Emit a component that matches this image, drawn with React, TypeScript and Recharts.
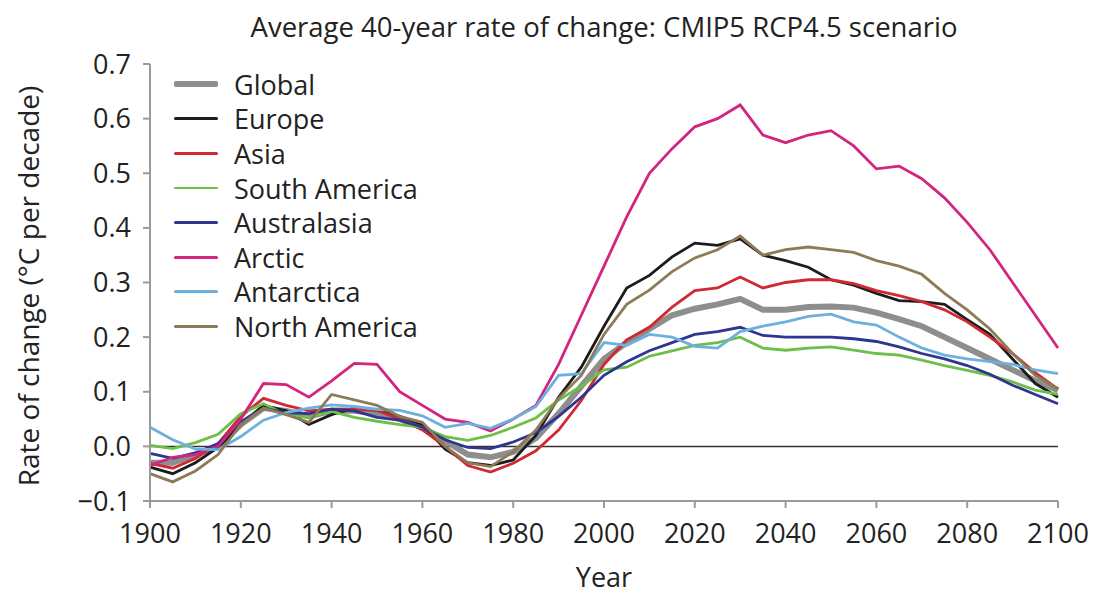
import React from 'react';
import {
  LineChart,
  Line,
  XAxis,
  YAxis,
  ReferenceLine,
} from 'recharts';

const years = [
  1900, 1905, 1910, 1915, 1920, 1925, 1930, 1935, 1940, 1945, 1950, 1955, 1960, 1965,
  1970, 1975, 1980, 1985, 1990, 1995, 2000, 2005, 2010, 2015, 2020, 2025, 2030, 2035,
  2040, 2045, 2050, 2055, 2060, 2065, 2070, 2075, 2080, 2085, 2090, 2095, 2100,
];

const globalRate = [
  -0.03, -0.03, -0.015, 0.0, 0.04, 0.07, 0.065, 0.055, 0.065, 0.065, 0.06, 0.05, 0.035, 0.01,
  -0.015, -0.02, -0.01, 0.015, 0.06, 0.11, 0.16, 0.19, 0.215, 0.24, 0.252, 0.26, 0.27, 0.25,
  0.25, 0.255, 0.256, 0.254, 0.245, 0.233, 0.22, 0.2, 0.18, 0.16, 0.14, 0.12, 0.103,
];
const europe = [
  -0.038, -0.05, -0.03, -0.002, 0.04, 0.075, 0.065, 0.04, 0.058, 0.07, 0.066, 0.055, 0.04, -0.005,
  -0.03, -0.035, -0.025, 0.02, 0.09, 0.145, 0.22, 0.29, 0.313, 0.347, 0.372, 0.368, 0.38, 0.35,
  0.34, 0.328, 0.305, 0.295, 0.28, 0.267, 0.265, 0.26, 0.232, 0.205, 0.16, 0.115, 0.09,
];
const asia = [
  -0.031, -0.04, -0.022, 0.005, 0.055, 0.088, 0.075, 0.065, 0.068, 0.068, 0.066, 0.05, 0.03, 0.0,
  -0.035, -0.047, -0.031, -0.008, 0.03, 0.084, 0.15, 0.195, 0.218, 0.255, 0.285, 0.29, 0.31, 0.29,
  0.3, 0.305, 0.305, 0.298, 0.285, 0.276, 0.265, 0.25, 0.228, 0.2, 0.17, 0.135, 0.105,
];
const southAmerica = [
  0.002, -0.004, 0.007, 0.022, 0.06, 0.078, 0.058, 0.053, 0.064, 0.053, 0.046, 0.04, 0.035, 0.018,
  0.011, 0.02, 0.035, 0.052, 0.085, 0.11, 0.14, 0.145, 0.165, 0.175, 0.185, 0.19, 0.2, 0.18,
  0.176, 0.18, 0.182, 0.176, 0.17, 0.167, 0.158, 0.148, 0.139, 0.13, 0.118, 0.103, 0.095,
];
const australasia = [
  -0.013, -0.022, -0.012, 0.005, 0.045, 0.07, 0.062, 0.06, 0.068, 0.065, 0.053, 0.048, 0.035, 0.012,
  -0.002, -0.004, 0.008, 0.025, 0.055, 0.09, 0.13, 0.155, 0.175, 0.19, 0.205, 0.21, 0.218, 0.203,
  0.2, 0.2, 0.2, 0.197, 0.192, 0.182, 0.17, 0.16, 0.148, 0.132, 0.112, 0.095, 0.078,
];
const arctic = [
  -0.035, -0.02, -0.015, 0.0, 0.05, 0.115, 0.113, 0.09, 0.12, 0.152, 0.15, 0.1, 0.075, 0.05,
  0.044, 0.028, 0.05, 0.075, 0.15, 0.24, 0.33, 0.42, 0.5, 0.545, 0.585, 0.6, 0.625, 0.57,
  0.556, 0.57, 0.578, 0.55, 0.508, 0.513, 0.49, 0.455, 0.41, 0.36, 0.3, 0.24, 0.18,
];
const antarctica = [
  0.035, 0.012, -0.005, -0.006, 0.018, 0.048, 0.062, 0.07, 0.076, 0.073, 0.068, 0.066, 0.056, 0.035,
  0.042, 0.033, 0.05, 0.073, 0.13, 0.133, 0.19, 0.185, 0.205, 0.2, 0.183, 0.18, 0.21, 0.22,
  0.228, 0.238, 0.242, 0.228, 0.222, 0.2, 0.18, 0.167, 0.16, 0.155, 0.15, 0.14, 0.133,
];
const northAmerica = [
  -0.05, -0.065, -0.045, -0.015, 0.04, 0.07, 0.058, 0.044, 0.095, 0.085, 0.075, 0.055, 0.044, 0.0,
  -0.03, -0.037, -0.01, 0.03, 0.088, 0.13, 0.205, 0.26, 0.286, 0.32, 0.345, 0.36, 0.385, 0.35,
  0.36, 0.365, 0.36, 0.355, 0.34, 0.33, 0.315, 0.28, 0.25, 0.215, 0.17, 0.13, 0.105,
];

const xTicks = [1900, 1920, 1940, 1960, 1980, 2000, 2020, 2040, 2060, 2080, 2100];
const yTicks = [-0.1, 0, 0.1, 0.2, 0.3, 0.4, 0.5, 0.6, 0.7];

const series = [
  { key: 'global', name: 'Global', values: globalRate, color: '#8e8e8e', width: 6 },
  { key: 'europe', name: 'Europe', values: europe, color: '#1c1c1c', width: 2.8 },
  { key: 'asia', name: 'Asia', values: asia, color: '#cf2a33', width: 2.8 },
  { key: 'southAmerica', name: 'South America', values: southAmerica, color: '#6cbf47', width: 2.8 },
  { key: 'australasia', name: 'Australasia', values: australasia, color: '#2f3590', width: 2.8 },
  { key: 'arctic', name: 'Arctic', values: arctic, color: '#d3247e', width: 2.8 },
  { key: 'antarctica', name: 'Antarctica', values: antarctica, color: '#6cb0e0', width: 2.8 },
  { key: 'northAmerica', name: 'North America', values: northAmerica, color: '#8d7b57', width: 2.8 },
];

const data = years.map((year, i) => {
  const row: Record<string, number> = { year };
  series.forEach((s) => {
    row[s.key] = s.values[i];
  });
  return row;
});

const FONT = '"Open Sans", "DejaVu Sans", sans-serif';
const TEXT = '#222';
const AXIS = '#9a9a9a';

const fmtY = (v: number) => (v < 0 ? '\u2212' + Math.abs(v).toFixed(1) : v.toFixed(1));

const LegendBox = () => (
  <div
    style={{
      position: 'absolute',
      left: 174,
      top: 67,
      fontFamily: FONT,
      fontSize: 27,
      color: TEXT,
    }}
  >
    {series.map((s) => (
      <div key={s.key} style={{ display: 'flex', alignItems: 'center', height: 34.6 }}>
        <span
          style={{
            display: 'inline-block',
            width: 44,
            height: s.width,
            background: s.color,
            borderRadius: 2,
            marginRight: 16,
          }}
        />
        <span>{s.name}</span>
      </div>
    ))}
  </div>
);

export default function App() {
  return (
    <div style={{ position: 'absolute', left: 0, top: 0, width: 1094, height: 594, background: '#fff' }}>
      <LineChart
        width={1094}
        height={594}
        data={data}
        margin={{ top: 64, right: 36, bottom: 0, left: 80 }}
      >
        <XAxis
          dataKey="year"
          type="number"
          domain={[1900, 2100]}
          ticks={xTicks}
          interval={0}
          tickSize={7}
          tickMargin={16}
          stroke={AXIS}
          strokeWidth={2}
          tick={{ fill: TEXT, fontSize: 27, fontFamily: FONT }}
          height={93}
        />
        <YAxis
          type="number"
          domain={[-0.1, 0.7]}
          ticks={yTicks}
          interval={0}
          tickFormatter={fmtY}
          tickSize={7}
          tickMargin={12}
          stroke={AXIS}
          strokeWidth={2}
          tick={{ fill: TEXT, fontSize: 27, fontFamily: FONT }}
          width={70}
        />
        <XAxis xAxisId="top" orientation="top" dataKey="year" type="number" domain={[1900, 2100]} tick={false} tickLine={false} stroke={AXIS} strokeWidth={2} height={0} />
        <YAxis yAxisId="right" orientation="right" domain={[-0.1, 0.7]} tick={false} tickLine={false} stroke={AXIS} strokeWidth={2} width={0} />
        <ReferenceLine y={0} stroke="#333" strokeWidth={1.5} />
        {series.map((s) => (
          <Line
            key={s.key}
            type="linear"
            dataKey={s.key}
            name={s.name}
            stroke={s.color}
            strokeWidth={s.width}
            dot={false}
            isAnimationActive={false}
          />
        ))}
      </LineChart>
      <LegendBox />
      <div
        style={{
          position: 'absolute',
          left: 150,
          width: 908,
          top: 8,
          textAlign: 'center',
          fontFamily: FONT,
          fontSize: 27.5,
          color: TEXT,
          whiteSpace: 'nowrap',
        }}
      >
        Average 40-year rate of change: CMIP5 RCP4.5 scenario
      </div>
      <div
        style={{
          position: 'absolute',
          left: 28,
          top: 286,
          transform: 'translate(-50%, -50%) rotate(-90deg)',
          whiteSpace: 'nowrap',
          fontFamily: FONT,
          fontSize: 28,
          color: TEXT,
        }}
      >
        Rate of change (°C per decade)
      </div>
      <div
        style={{
          position: 'absolute',
          left: 150,
          width: 908,
          top: 558,
          textAlign: 'center',
          fontFamily: FONT,
          fontSize: 27,
          color: TEXT,
        }}
      >
        Year
      </div>
    </div>
  );
}
